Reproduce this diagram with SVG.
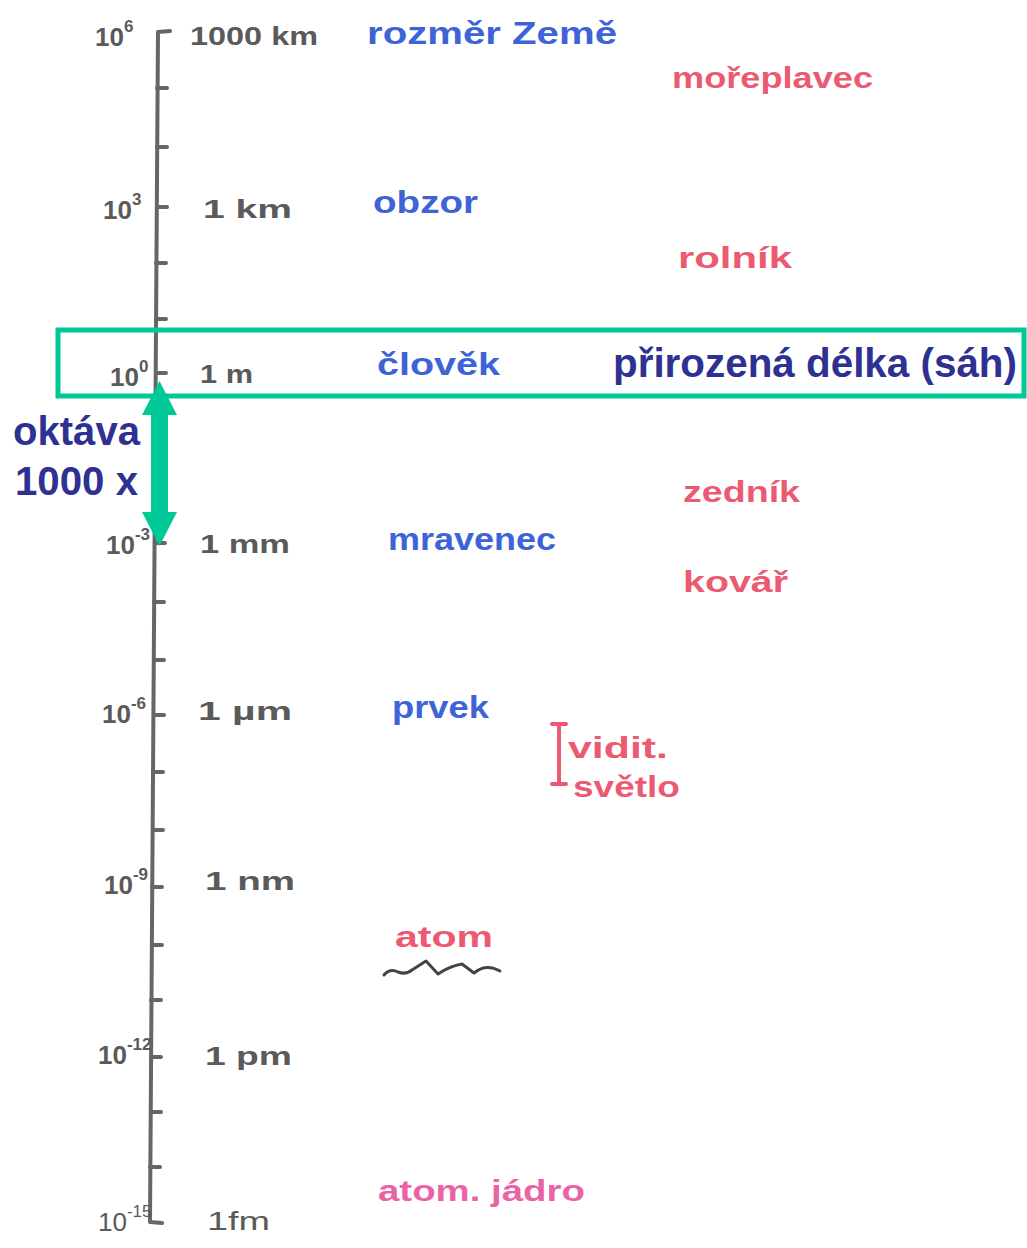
<svg xmlns="http://www.w3.org/2000/svg" width="1027" height="1248" viewBox="0 0 1027 1248">
<style>
.ax{fill:none;stroke:#666;stroke-width:4;stroke-linecap:round;stroke-linejoin:round}
.g{font-family:"Liberation Sans",Arial,sans-serif;font-size:26px;fill:#5a5a5a;font-weight:bold}
.sup{font-size:17px}
.b{font-family:"Liberation Sans",Arial,sans-serif;font-size:32px;fill:#3d63d6;font-weight:bold}
.r{font-family:"Liberation Sans",Arial,sans-serif;font-size:30px;fill:#ec5a72;font-weight:bold}
.k{font-family:"Liberation Sans",Arial,sans-serif;font-size:40px;fill:#2e3192;font-weight:bold}
</style>
<rect width="1027" height="1248" fill="#ffffff"/>
<g id="axis">
<path class="ax" d="M170,31 L158,32 L150,1222 L162,1223"/>
<path class="ax" d="M157,88h10 M157,147h10 M157,207h10 M156,263h10 M156,319h10 M156,373h10 M155,430h10 M155,488h10 M155,543h10 M154,602h10 M154,660h10 M154,715h10 M153,772h10 M153,830h10 M152,887h10 M152,945h10 M151,1000h10 M151,1057h10 M151,1112h10 M150,1167h10"/>
</g>
<g id="exponents">
<text class="g" x="95" y="46">10<tspan class="sup" dy="-14">6</tspan></text>
<text class="g" x="103" y="219">10<tspan class="sup" dy="-14">3</tspan></text>
<text class="g" x="110" y="386">10<tspan class="sup" dy="-14">0</tspan></text>
<text class="g" x="106" y="554">10<tspan class="sup" dy="-14">-3</tspan></text>
<text class="g" x="102" y="723">10<tspan class="sup" dy="-14">-6</tspan></text>
<text class="g" x="104" y="894">10<tspan class="sup" dy="-14">-9</tspan></text>
<text class="g" x="98" y="1064">10<tspan class="sup" dy="-14">-12</tspan></text>
<text class="g" x="98" y="1231" style="font-weight:normal">10<tspan class="sup" dy="-14">-15</tspan></text>
</g>
<g id="units">
<text class="g" x="190" y="45" textLength="128" lengthAdjust="spacingAndGlyphs">1000 km</text>
<text class="g" x="203" y="218" textLength="89" lengthAdjust="spacingAndGlyphs">1 km</text>
<text class="g" x="200" y="383" textLength="53" lengthAdjust="spacingAndGlyphs">1 m</text>
<text class="g" x="200" y="553" textLength="90" lengthAdjust="spacingAndGlyphs">1 mm</text>
<text class="g" x="198" y="720" textLength="94" lengthAdjust="spacingAndGlyphs">1 µm</text>
<text class="g" x="205" y="890" textLength="90" lengthAdjust="spacingAndGlyphs">1 nm</text>
<text class="g" x="205" y="1065" textLength="87" lengthAdjust="spacingAndGlyphs">1 pm</text>
<text class="g" x="207" y="1230" textLength="63" lengthAdjust="spacingAndGlyphs" style="font-weight:normal">1fm</text>
</g>
<g id="objects-blue">
<text class="b" x="367" y="44" textLength="250" lengthAdjust="spacingAndGlyphs">rozměr Země</text>
<text class="b" x="373" y="213" textLength="105" lengthAdjust="spacingAndGlyphs">obzor</text>
<text class="b" x="377" y="375" textLength="123" lengthAdjust="spacingAndGlyphs">člověk</text>
<text class="b" x="388" y="550" textLength="168" lengthAdjust="spacingAndGlyphs">mravenec</text>
<text class="b" x="392" y="718" textLength="97" lengthAdjust="spacingAndGlyphs">prvek</text>
</g>
<g id="objects-red">
<text class="r" x="672" y="88" textLength="201" lengthAdjust="spacingAndGlyphs">mořeplavec</text>
<text class="r" x="678" y="268" textLength="114" lengthAdjust="spacingAndGlyphs">rolník</text>
<text class="r" x="683" y="502" textLength="117" lengthAdjust="spacingAndGlyphs">zedník</text>
<text class="r" x="683" y="592" textLength="105" lengthAdjust="spacingAndGlyphs">kovář</text>
<path d="M552,724h14 M559,724v60 M552,784h14" fill="none" stroke="#ec5a72" stroke-width="4" stroke-linecap="round"/>
<text class="r" x="568" y="758" textLength="100" lengthAdjust="spacingAndGlyphs">vidit.</text>
<text class="r" x="573" y="797" textLength="107" lengthAdjust="spacingAndGlyphs">světlo</text>
<text class="r" x="395" y="947" textLength="98" lengthAdjust="spacingAndGlyphs">atom</text>
<path d="M384,975 Q390,968 398,972 Q406,975 412,970 L426,961 L438,974 Q450,966 462,964 L474,973 Q486,963 500,971" fill="none" stroke="#444" stroke-width="3" stroke-linecap="round" stroke-linejoin="round"/>
<text class="r" x="378" y="1201" textLength="207" lengthAdjust="spacingAndGlyphs" style="fill:#e964a6">atom. jádro</text>
</g>
<g id="natural-length">
<rect x="58" y="330" width="966" height="66" fill="none" stroke="#00c896" stroke-width="5"/>
<text class="k" x="613" y="377" textLength="404" lengthAdjust="spacingAndGlyphs">přirozená délka (sáh)</text>
</g>
<g id="octave">
<polygon points="159.5,381 177,415 168,415 168,512 177,512 159.5,546 142,512 151,512 151,415 142,415" fill="#00c896"/>
<text class="k" x="13" y="445" textLength="127" lengthAdjust="spacingAndGlyphs">oktáva</text>
<text class="k" x="15" y="495" textLength="123" lengthAdjust="spacingAndGlyphs">1000 x</text>
</g>
</svg>
